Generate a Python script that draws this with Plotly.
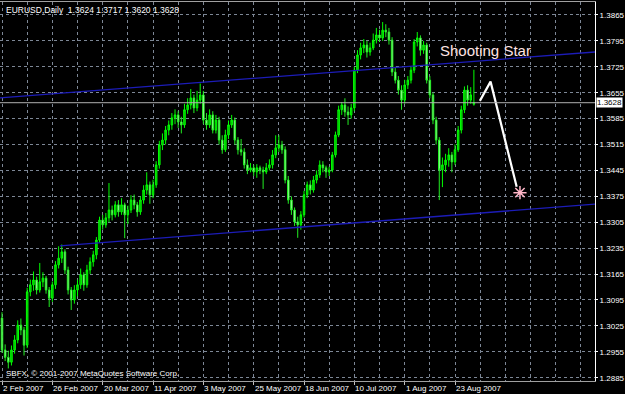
import plotly.graph_objects as go
import pandas as pd

# ---------------- data (EURUSD daily) ----------------
dates = [d.strftime("%Y-%m-%d") for d in pd.bdate_range("2007-02-02", periods=151)]

opens = [1.3046, 1.2960, 1.2940, 1.2927, 1.2960, 1.2987, 1.3027, 1.3014, 1.2973, 1.3117,
         1.3136, 1.3149, 1.3122, 1.3144, 1.3154, 1.3122, 1.3100, 1.3136, 1.3190, 1.3208,
         1.3225, 1.3176, 1.3122, 1.3095, 1.3122, 1.3136, 1.3163, 1.3136, 1.3176, 1.3198,
         1.3217, 1.3257, 1.3311, 1.3298, 1.3317, 1.3338, 1.3325, 1.3352, 1.3333, 1.3352,
         1.3325, 1.3338, 1.3365, 1.3352, 1.3333, 1.3365, 1.3392, 1.3406, 1.3379, 1.3406,
         1.3460, 1.3514, 1.3527, 1.3554, 1.3568, 1.3587, 1.3595, 1.3576, 1.3568, 1.3609,
         1.3622, 1.3641, 1.3614, 1.3635, 1.3649, 1.3581, 1.3568, 1.3595, 1.3554, 1.3581,
         1.3527, 1.3501, 1.3541, 1.3568, 1.3581, 1.3527, 1.3501, 1.3495, 1.3460, 1.3446,
         1.3452, 1.3441, 1.3452, 1.3446, 1.3441, 1.3452, 1.3460, 1.3487, 1.3506, 1.3514,
         1.3501, 1.3419, 1.3365, 1.3338, 1.3306, 1.3298, 1.3325, 1.3379, 1.3406, 1.3392,
         1.3419, 1.3433, 1.3460, 1.3452, 1.3441, 1.3446, 1.3487, 1.3541, 1.3609, 1.3622,
         1.3603, 1.3595, 1.3614, 1.3716, 1.3757, 1.3776, 1.3784, 1.3765, 1.3776, 1.3797,
         1.3811, 1.3803, 1.3824, 1.3819, 1.3797, 1.3711, 1.3689, 1.3662, 1.3635, 1.3676,
         1.3689, 1.3716, 1.3792, 1.3803, 1.3770, 1.3784, 1.3689, 1.3649, 1.3581, 1.3527,
         1.3446, 1.3460, 1.3473, 1.3487, 1.3468, 1.3501, 1.3554, 1.3609, 1.3662, 1.3635,
         1.3624]

highs = [1.3062, 1.2975, 1.2958, 1.2972, 1.3000, 1.3040, 1.3045, 1.3022, 1.3128, 1.3150,
         1.3172, 1.3158, 1.3195, 1.3170, 1.3160, 1.3130, 1.3145, 1.3200, 1.3240, 1.3245,
         1.3232, 1.3185, 1.3130, 1.3135, 1.3150, 1.3180, 1.3170, 1.3190, 1.3210, 1.3228,
         1.3265, 1.3320, 1.3325, 1.3330, 1.3411, 1.3350, 1.3362, 1.3365, 1.3370, 1.3358,
         1.3350, 1.3378, 1.3380, 1.3360, 1.3375, 1.3405, 1.3440, 1.3415, 1.3420, 1.3470,
         1.3525, 1.3545, 1.3565, 1.3580, 1.3600, 1.3610, 1.3605, 1.3590, 1.3625, 1.3640,
         1.3665, 1.3650, 1.3660, 1.3680, 1.3660, 1.3600, 1.3610, 1.3605, 1.3595, 1.3590,
         1.3540, 1.3555, 1.3580, 1.3595, 1.3588, 1.3535, 1.3530, 1.3505, 1.3475, 1.3465,
         1.3460, 1.3462, 1.3458, 1.3455, 1.3465, 1.3475, 1.3500, 1.3540, 1.3540, 1.3525,
         1.3510, 1.3430, 1.3375, 1.3345, 1.3320, 1.3335, 1.3390, 1.3415, 1.3418, 1.3430,
         1.3445, 1.3472, 1.3470, 1.3458, 1.3455, 1.3495, 1.3550, 1.3620, 1.3630, 1.3640,
         1.3618, 1.3625, 1.3725, 1.3770, 1.3790, 1.3800, 1.3795, 1.3790, 1.3815, 1.3830,
         1.3825, 1.3846, 1.3840, 1.3830, 1.3805, 1.3725, 1.3700, 1.3675, 1.3690, 1.3700,
         1.3725, 1.3800, 1.3819, 1.3810, 1.3795, 1.3790, 1.3700, 1.3655, 1.3590, 1.3535,
         1.3480, 1.3490, 1.3505, 1.3495, 1.3515, 1.3565, 1.3620, 1.3672, 1.3675, 1.3670,
         1.3717]

lows = [1.2952, 1.2930, 1.2910, 1.2918, 1.2950, 1.2978, 1.3000, 1.2945, 1.2965, 1.3105,
        1.3120, 1.3110, 1.3115, 1.3130, 1.3112, 1.3076, 1.3090, 1.3125, 1.3180, 1.3195,
        1.3165, 1.3110, 1.3068, 1.3085, 1.3105, 1.3125, 1.3120, 1.3128, 1.3165, 1.3185,
        1.3205, 1.3250, 1.3285, 1.3290, 1.3305, 1.3310, 1.3318, 1.3320, 1.3325, 1.3262,
        1.3300, 1.3330, 1.3340, 1.3320, 1.3325, 1.3355, 1.3380, 1.3355, 1.3370, 1.3398,
        1.3450, 1.3500, 1.3515, 1.3540, 1.3555, 1.3570, 1.3560, 1.3545, 1.3560, 1.3598,
        1.3610, 1.3600, 1.3605, 1.3625, 1.3570, 1.3555, 1.3560, 1.3545, 1.3545, 1.3515,
        1.3490, 1.3495, 1.3530, 1.3560, 1.3515, 1.3488, 1.3485, 1.3450, 1.3435, 1.3440,
        1.3430, 1.3425, 1.3435, 1.3395, 1.3435, 1.3445, 1.3450, 1.3478, 1.3495, 1.3490,
        1.3410, 1.3355, 1.3325, 1.3295, 1.3263, 1.3285, 1.3318, 1.3370, 1.3380, 1.3385,
        1.3410, 1.3425, 1.3440, 1.3425, 1.3430, 1.3440, 1.3480, 1.3535, 1.3595, 1.3590,
        1.3568, 1.3585, 1.3605, 1.3708, 1.3745, 1.3762, 1.3750, 1.3755, 1.3770, 1.3788,
        1.3792, 1.3795, 1.3805, 1.3785, 1.3700, 1.3680, 1.3650, 1.3609, 1.3625, 1.3665,
        1.3680, 1.3708, 1.3780, 1.3755, 1.3760, 1.3680, 1.3640, 1.3570, 1.3515, 1.3365,
        1.3400, 1.3440, 1.3455, 1.3440, 1.3460, 1.3495, 1.3545, 1.3600, 1.3620, 1.3625,
        1.3620]

closes = [1.2960, 1.2940, 1.2927, 1.2960, 1.2987, 1.3027, 1.3014, 1.2973, 1.3117, 1.3136,
          1.3149, 1.3122, 1.3144, 1.3154, 1.3122, 1.3100, 1.3136, 1.3190, 1.3208, 1.3225,
          1.3176, 1.3122, 1.3095, 1.3122, 1.3136, 1.3163, 1.3136, 1.3176, 1.3198, 1.3217,
          1.3257, 1.3311, 1.3298, 1.3317, 1.3338, 1.3325, 1.3352, 1.3333, 1.3352, 1.3325,
          1.3338, 1.3365, 1.3352, 1.3333, 1.3365, 1.3392, 1.3406, 1.3379, 1.3406, 1.3460,
          1.3514, 1.3527, 1.3554, 1.3568, 1.3587, 1.3595, 1.3576, 1.3568, 1.3609, 1.3622,
          1.3641, 1.3614, 1.3635, 1.3649, 1.3581, 1.3568, 1.3595, 1.3554, 1.3581, 1.3527,
          1.3501, 1.3541, 1.3568, 1.3581, 1.3527, 1.3501, 1.3495, 1.3460, 1.3446, 1.3452,
          1.3441, 1.3452, 1.3446, 1.3441, 1.3452, 1.3460, 1.3487, 1.3506, 1.3514, 1.3501,
          1.3419, 1.3365, 1.3338, 1.3306, 1.3298, 1.3325, 1.3379, 1.3406, 1.3392, 1.3419,
          1.3433, 1.3460, 1.3452, 1.3441, 1.3446, 1.3487, 1.3541, 1.3609, 1.3622, 1.3603,
          1.3595, 1.3614, 1.3716, 1.3757, 1.3776, 1.3784, 1.3765, 1.3776, 1.3797, 1.3811,
          1.3803, 1.3824, 1.3819, 1.3797, 1.3711, 1.3689, 1.3662, 1.3635, 1.3676, 1.3689,
          1.3716, 1.3792, 1.3803, 1.3770, 1.3784, 1.3689, 1.3649, 1.3581, 1.3527, 1.3446,
          1.3460, 1.3473, 1.3487, 1.3468, 1.3501, 1.3554, 1.3609, 1.3662, 1.3635, 1.3649,
          1.3628]

x_tick_idx = [0, 16, 32, 48, 64, 80, 96, 112, 128, 144]
x_tick_labels = ["2 Feb 2007", "26 Feb 2007", "20 Mar 2007", "11 Apr 2007", "3 May 2007",
                 "25 May 2007", "18 Jun 2007", "10 Jul 2007", "1 Aug 2007", "23 Aug 2007"]
y_ticks = [1.2885, 1.2955, 1.3025, 1.3095, 1.3165, 1.3235, 1.3305, 1.3375,
           1.3445, 1.3515, 1.3585, 1.3655, 1.3725, 1.3795, 1.3865]

last_price = 1.3628
title_text = "EURUSD,Daily  1.3624 1.3717 1.3620 1.3628"
copyright_text = "SBFX, © 2001-2007 MetaQuotes Software Corp."

# drawn objects (trend channel, arrow, star) in bar-index / price coordinates
upper_x, upper_y = [-0.64, 188.5], [1.3641, 1.3765]
lower_x, lower_y = [18.4, 188.5], [1.3241, 1.3354]
arrow_x, arrow_y = [151.9, 155.3, 163.6], [1.3633, 1.3685, 1.3401]
star_x, star_y = [164.65], [1.3385]
label_x, label_y = 138.6, 1.3768

# ---------------- figure ----------------
idx = list(range(len(closes)))
FONT = "Liberation Sans"
SMALL = 8
X_RANGE = [-0.64, 188.5]

fig = go.Figure()
fig.add_trace(go.Candlestick(
    x=idx, open=opens, high=highs, low=lows, close=closes, text=dates,
    increasing=dict(line=dict(color="#00ff00", width=1), fillcolor="#00b400"),
    decreasing=dict(line=dict(color="#22ee22", width=1), fillcolor="#c8ffc8"),
    whiskerwidth=0, showlegend=False,
))
for xs, ys in [(upper_x, upper_y), (lower_x, lower_y)]:
    fig.add_trace(go.Scatter(x=xs, y=ys, mode="lines",
                             line=dict(color="#1c1cb8", width=1.3),
                             showlegend=False, hoverinfo="skip"))
fig.add_trace(go.Scatter(x=arrow_x, y=arrow_y, mode="lines",
                         line=dict(color="#ffffff", width=2.2),
                         showlegend=False, hoverinfo="skip"))
fig.add_trace(go.Scatter(x=star_x, y=star_y, mode="markers",
                         marker=dict(symbol="asterisk-open", size=11, color="#ffb6c8",
                                     line=dict(color="#ffb6c8", width=1.5)),
                         showlegend=False, hoverinfo="skip"))

# price line
fig.add_shape(type="line", xref="paper", x0=0, x1=1, yref="y",
              y0=last_price, y1=last_price, line=dict(color="#b0b0b0", width=1))

# x-axis date labels (MT4 style: text starts right of its tick)
for xi, lab in zip(x_tick_idx, x_tick_labels):
    fig.add_annotation(x=xi, y=0, xref="x", yref="paper", text=lab, showarrow=False,
                       xanchor="left", yanchor="top", xshift=-1, yshift=-1,
                       font=dict(family=FONT, size=SMALL, color="#ffffff"))

fig.add_annotation(x=label_x, y=label_y, xref="x", yref="y", text="Shooting Star",
                   showarrow=False, xanchor="left", yanchor="middle",
                   font=dict(family=FONT, size=15, color="#ffe4e4"))
fig.add_annotation(x=1, y=last_price, xref="paper", yref="y", text=f"{last_price:.4f}",
                   showarrow=False, xanchor="left", yanchor="middle", xshift=1,
                   bgcolor="#ffffff", borderpad=0,
                   font=dict(family=FONT, size=SMALL, color="#000000"))
fig.add_annotation(x=0, y=1, xref="paper", yref="paper", text=title_text,
                   showarrow=False, xanchor="left", yanchor="top", xshift=4, yshift=-1,
                   font=dict(family=FONT, size=8.5, color="#ffffff"))
fig.add_annotation(x=0, y=0, xref="paper", yref="paper", text=copyright_text,
                   showarrow=False, xanchor="left", yanchor="bottom", xshift=4, yshift=1,
                   font=dict(family=FONT, size=SMALL, color="#ffffff"))

grid = dict(color="#7d8796", dash="3px,3px")
fig.update_layout(
    width=625, height=394,
    margin=dict(l=0, r=30, t=2, b=13),
    paper_bgcolor="#000000", plot_bgcolor="#000000",
    font=dict(family=FONT, size=SMALL, color="#ffffff"),
    xaxis=dict(range=X_RANGE, tickmode="array", tickvals=x_tick_idx,
               showticklabels=False, ticks="outside", ticklen=3, tickcolor="#c0c0c0",
               showgrid=True, gridcolor=grid["color"], griddash=grid["dash"], gridwidth=1,
               minor=dict(tick0=0, dtick=8, showgrid=True, gridcolor=grid["color"],
                          griddash=grid["dash"], gridwidth=1, ticks=""),
               showline=True, linecolor="#a0a0a0", linewidth=1, mirror=True,
               zeroline=False, rangeslider=dict(visible=False), automargin=False),
    yaxis=dict(side="right", range=[1.28761, 1.39001], tickmode="array",
               tickvals=y_ticks, ticktext=[f"{v:.4f}" for v in y_ticks],
               ticks="outside", ticklen=2, tickcolor="#ffffff",
               showgrid=True, gridcolor=grid["color"], griddash=grid["dash"], gridwidth=1,
               showline=True, linecolor="#ffffff", linewidth=1, zeroline=False,
               automargin=False,
               tickfont=dict(family=FONT, size=SMALL, color="#ffffff")),
)

fig.write_html("out.html")
